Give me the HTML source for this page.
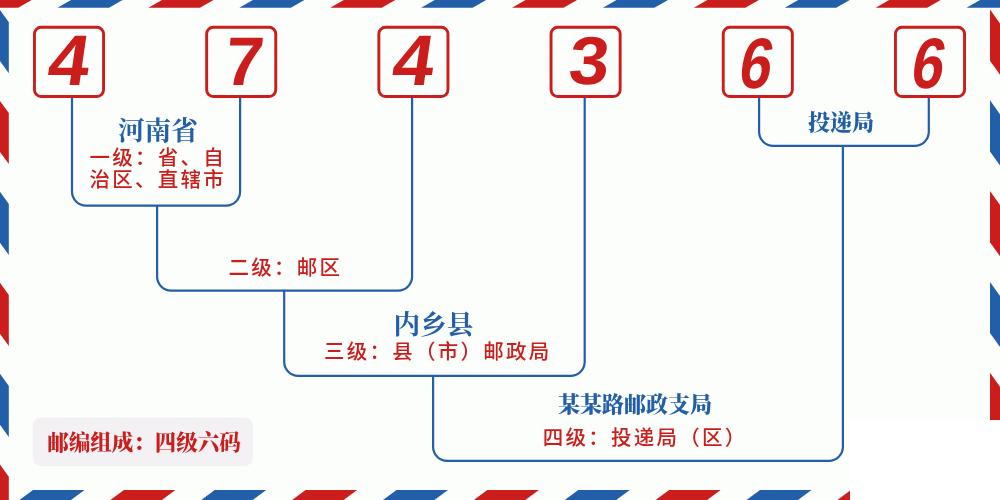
<!DOCTYPE html>
<html lang="zh-CN">
<head>
<meta charset="utf-8">
<title>邮编组成：四级六码</title>
<style>
html,body{margin:0;padding:0;background:#fcfefb;}
body{width:1000px;height:500px;overflow:hidden;position:relative;}
svg{position:absolute;left:0;top:0;display:block;will-change:transform;}
.dg{font-family:"Liberation Sans","DejaVu Sans",sans-serif;font-weight:bold;font-size:64px;fill:#cb1d1c;}
.ser{font-family:"Liberation Serif","Noto Serif CJK SC",serif;font-weight:900;}
.san{font-family:"Liberation Sans","Noto Sans CJK SC",sans-serif;font-weight:500;}
.ser7{font-family:"Liberation Serif","Noto Serif CJK SC",serif;font-weight:700;}
.r{fill:#cb1d1c;}
.b{fill:#235ea8;}
</style>
</head>
<body>
<svg width="1000" height="500" viewBox="0 0 1000 500">
<rect x="0" y="0" width="1000" height="500" fill="#fcfefb"/>
<polygon points="-33.40,7.75 18.10,7.75 31.70,0.00 -19.80,0.00" fill="#cb1d1c"/>
<polygon points="57.50,7.75 109.00,7.75 122.60,0.00 71.10,0.00" fill="#235ea8"/>
<polygon points="148.40,7.75 199.90,7.75 213.50,0.00 162.00,0.00" fill="#cb1d1c"/>
<polygon points="239.30,7.75 290.80,7.75 304.40,0.00 252.90,0.00" fill="#235ea8"/>
<polygon points="330.20,7.75 381.70,7.75 395.30,0.00 343.80,0.00" fill="#cb1d1c"/>
<polygon points="421.10,7.75 472.60,7.75 486.20,0.00 434.70,0.00" fill="#235ea8"/>
<polygon points="512.00,7.75 563.50,7.75 577.10,0.00 525.60,0.00" fill="#cb1d1c"/>
<polygon points="602.90,7.75 654.40,7.75 668.00,0.00 616.50,0.00" fill="#235ea8"/>
<polygon points="693.80,7.75 745.30,7.75 758.90,0.00 707.40,0.00" fill="#cb1d1c"/>
<polygon points="784.70,7.75 836.20,7.75 849.80,0.00 798.30,0.00" fill="#235ea8"/>
<polygon points="875.60,7.75 927.10,7.75 940.70,0.00 889.20,0.00" fill="#cb1d1c"/>
<polygon points="966.50,7.75 1018.00,7.75 1031.60,0.00 980.10,0.00" fill="#235ea8"/>
<polygon points="1057.40,7.75 1108.90,7.75 1122.50,0.00 1071.00,0.00" fill="#cb1d1c"/>
<polygon points="-57.88,490.00 -6.38,490.00 -19.88,500.00 -71.38,500.00" fill="#cb1d1c"/>
<polygon points="33.00,490.00 84.50,490.00 71.00,500.00 19.50,500.00" fill="#235ea8"/>
<polygon points="123.88,490.00 175.38,490.00 161.88,500.00 110.38,500.00" fill="#cb1d1c"/>
<polygon points="214.75,490.00 266.25,490.00 252.75,500.00 201.25,500.00" fill="#235ea8"/>
<polygon points="305.62,490.00 357.12,490.00 343.62,500.00 292.12,500.00" fill="#cb1d1c"/>
<polygon points="396.50,490.00 448.00,490.00 434.50,500.00 383.00,500.00" fill="#235ea8"/>
<polygon points="487.38,490.00 538.88,490.00 525.38,500.00 473.88,500.00" fill="#cb1d1c"/>
<polygon points="578.25,490.00 629.75,490.00 616.25,500.00 564.75,500.00" fill="#235ea8"/>
<polygon points="669.12,490.00 720.62,490.00 707.12,500.00 655.62,500.00" fill="#cb1d1c"/>
<polygon points="760.00,490.00 811.50,490.00 798.00,500.00 746.50,500.00" fill="#235ea8"/>
<polygon points="850.88,490.00 902.38,490.00 888.88,500.00 837.38,500.00" fill="#cb1d1c"/>
<polygon points="941.75,490.00 993.25,490.00 979.75,500.00 928.25,500.00" fill="#235ea8"/>
<polygon points="1032.62,490.00 1084.12,490.00 1070.62,500.00 1019.12,500.00" fill="#cb1d1c"/>
<polygon points="0.00,10.00 8.80,22.20 8.80,73.20 0.00,61.00" fill="#235ea8"/>
<polygon points="0.00,100.92 8.80,113.12 8.80,164.12 0.00,151.92" fill="#cb1d1c"/>
<polygon points="0.00,191.84 8.80,204.04 8.80,255.04 0.00,242.84" fill="#235ea8"/>
<polygon points="0.00,282.76 8.80,294.96 8.80,345.96 0.00,333.76" fill="#cb1d1c"/>
<polygon points="0.00,373.68 8.80,385.88 8.80,436.88 0.00,424.68" fill="#235ea8"/>
<polygon points="0.00,464.60 8.80,476.80 8.80,527.80 0.00,515.60" fill="#cb1d1c"/>
<polygon points="990.00,9.50 1000.00,23.50 1000.00,74.70 990.00,60.70" fill="#cb1d1c"/>
<polygon points="990.00,100.30 1000.00,114.30 1000.00,165.50 990.00,151.50" fill="#235ea8"/>
<polygon points="990.00,191.10 1000.00,205.10 1000.00,256.30 990.00,242.30" fill="#cb1d1c"/>
<polygon points="990.00,281.90 1000.00,295.90 1000.00,347.10 990.00,333.10" fill="#235ea8"/>
<polygon points="990.00,372.70 1000.00,386.70 1000.00,437.90 990.00,423.90" fill="#cb1d1c"/>
<polygon points="990.00,463.50 1000.00,477.50 1000.00,528.70 990.00,514.70" fill="#235ea8"/>
<rect x="850" y="420" width="150" height="80" fill="#ffffff"/>
<g fill="none" stroke="#235ea8" stroke-width="2.2"><path d="M72.00 97.00 V191.60 A14 14 0 0 0 86.00 205.60 H226.10 A14 14 0 0 0 240.10 191.60 V97.00"/>
<path d="M157.10 205.60 V276.60 A14 14 0 0 0 171.10 290.60 H398.10 A14 14 0 0 0 412.10 276.60 V97.00"/>
<path d="M284.20 290.60 V361.80 A14 14 0 0 0 298.20 375.80 H570.70 A14 14 0 0 0 584.70 361.80 V97.00"/>
<path d="M433.10 375.80 V446.80 A14 14 0 0 0 447.10 460.80 H828.90 A14 14 0 0 0 842.90 446.80 V145.80"/>
<path d="M759.10 97.00 V131.80 A14 14 0 0 0 773.10 145.80 H914.80 A14 14 0 0 0 928.80 131.80 V97.00"/></g>
<rect x="34.45" y="27.25" width="69.1" height="69.2" rx="6.6" ry="6.6" fill="#fcfefb" stroke="#cb1d1c" stroke-width="2.9"/>
<rect x="206.65" y="27.25" width="69.1" height="69.2" rx="6.6" ry="6.6" fill="#fcfefb" stroke="#cb1d1c" stroke-width="2.9"/>
<rect x="378.85" y="27.25" width="69.1" height="69.2" rx="6.6" ry="6.6" fill="#fcfefb" stroke="#cb1d1c" stroke-width="2.9"/>
<rect x="551.05" y="27.25" width="69.1" height="69.2" rx="6.6" ry="6.6" fill="#fcfefb" stroke="#cb1d1c" stroke-width="2.9"/>
<rect x="723.25" y="27.25" width="69.1" height="69.2" rx="6.6" ry="6.6" fill="#fcfefb" stroke="#cb1d1c" stroke-width="2.9"/>
<rect x="895.45" y="27.25" width="69.1" height="69.2" rx="6.6" ry="6.6" fill="#fcfefb" stroke="#cb1d1c" stroke-width="2.9"/>
<text class="dg" transform="translate(45.60 84.65) scale(1.1493 1.1201) skewX(-8)" x="0" y="0">4</text>
<text class="dg" transform="translate(223.45 85.13) scale(1.0738 1.0713) skewX(-5)" x="0" y="0">7</text>
<text class="dg" transform="translate(390.00 84.65) scale(1.1493 1.1201) skewX(-8)" x="0" y="0">4</text>
<text class="dg" transform="translate(567.31 84.12) scale(1.1275 1.0607) skewX(-5)" x="0" y="0">3</text>
<text class="dg" transform="translate(736.45 87.98) scale(0.9107 1.1202) skewX(-12)" x="0" y="0">6</text>
<text class="dg" transform="translate(908.65 87.98) scale(0.9107 1.1202) skewX(-12)" x="0" y="0">6</text>
<rect x="32.8" y="417.6" width="220.1" height="48.3" rx="8" ry="8" fill="#f3f1f4"/>
<text class="ser r" x="144" y="450.3" font-size="21.5" text-anchor="middle">邮编组成：四级六码</text>
<text class="ser7 b" x="118" y="139.5" font-size="26.6">河南省</text>
<text class="san r" x="89.5" y="164.8" font-size="20.5" letter-spacing="2.25">一级：省、自</text>
<text class="san r" x="89.5" y="187.2" font-size="20.5" letter-spacing="2.25">治区、直辖市</text>
<text class="san r" x="228.5" y="275" font-size="20.5" letter-spacing="2.25">二级：邮区</text>
<text class="ser7 b" x="393.6" y="333.5" font-size="26.6">内乡县</text>
<text class="san r" x="324" y="358.9" font-size="20.5" letter-spacing="2.25">三级：县（市）邮政局</text>
<text class="ser b" x="635" y="411.5" font-size="22" text-anchor="middle">某某路邮政支局</text>
<text class="san r" x="542.8" y="445" font-size="20.5" letter-spacing="2.25">四级：投递局（区）</text>
<text class="ser b" x="841" y="129.6" font-size="22" text-anchor="middle">投递局</text>
</svg>
</body>
</html>
